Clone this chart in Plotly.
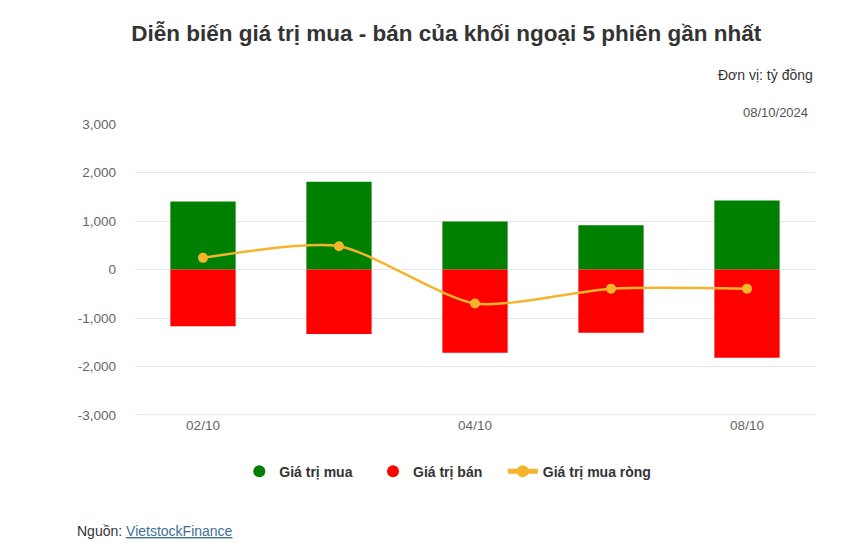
import plotly.graph_objects as go

dates = ["02/10", "03/10", "04/10", "07/10", "08/10"]
buy_values = [1400, 1810, 990, 910, 1425]
sell_values = [-1170, -1330, -1715, -1305, -1820]
net_values = [240, 480, -700, -395, -395]
shown_ticks = ["02/10", "04/10", "08/10"]
y_ticks = [-3000, -2000, -1000, 0, 1000, 2000, 3000]
y_tick_text = ["-3,000", "-2,000", "-1,000", "0", "1,000", "2,000", "3,000"]

GREEN = "#008000"
RED = "#ff0000"
GOLD = "#f4b52b"
FONT = "Liberation Sans, Arial, sans-serif"
PAD = "\u00a0" * 4

fig = go.Figure()
fig.add_trace(go.Bar(x=dates, y=buy_values, name="Giá trị mua", marker=dict(color=GREEN, line=dict(width=0)),
                     width=0.48, showlegend=False))
fig.add_trace(go.Bar(x=dates, y=sell_values, name="Giá trị bán", marker=dict(color=RED, line=dict(width=0)),
                     width=0.48, showlegend=False))
fig.add_trace(go.Scatter(x=dates, y=net_values, name="Giá trị mua ròng", mode="lines+markers",
                         line=dict(color=GOLD, width=2.5, shape="spline", smoothing=0.7),
                         marker=dict(color=GOLD, size=10), showlegend=False))
# legend-only entries
fig.add_trace(go.Scatter(x=[None], y=[None], mode="markers", name="<b>Giá trị mua</b>" + PAD,
                         marker=dict(color=GREEN, size=13, symbol="circle")))
fig.add_trace(go.Scatter(x=[None], y=[None], mode="markers", name="<b>Giá trị bán</b>" + PAD,
                         marker=dict(color=RED, size=13, symbol="circle")))
fig.add_trace(go.Scatter(x=[None], y=[None], mode="lines+markers", name="<b>Giá trị mua ròng</b>",
                         line=dict(color=GOLD, width=2.5), marker=dict(color=GOLD, size=8)))

fig.update_layout(
    width=865, height=558,
    margin=dict(l=135, r=50, t=124, b=143),
    paper_bgcolor="white", plot_bgcolor="white",
    barmode="relative", bargap=0.5,
    font=dict(family=FONT, color="#666666", size=13),
    title=dict(text="<b>Diễn biến giá trị mua - bán của khối ngoại 5 phiên gần nhất</b>",
               x=0.516, xanchor="center", y=0.94, yanchor="middle",
               font=dict(size=22.5, color="#333333", family=FONT)),
    xaxis=dict(type="category", categoryorder="array", categoryarray=dates,
               tickmode="array", tickvals=shown_ticks, ticktext=shown_ticks,
               showgrid=False, showline=False, ticks="", tickfont=dict(size=13.5, color="#666666"),
               range=[-0.5, 4.5], fixedrange=True),
    yaxis=dict(range=[-3000, 3000], tickvals=y_ticks, ticktext=y_tick_text,
               showgrid=True, gridcolor="#e6e6e6", gridwidth=1,
               zeroline=True, zerolinecolor="#e6e6e6", zerolinewidth=1,
               showline=False, ticks="", ticklabelstandoff=18,
               tickfont=dict(size=13.5, color="#666666")),
    legend=dict(orientation="h", x=0.46, xanchor="center", y=-0.14, yanchor="top",
                font=dict(size=14, color="#333333", family=FONT), itemsizing="constant",
                traceorder="normal", itemwidth=30),
    showlegend=True,
)
# darker bottom axis line
fig.add_shape(type="line", xref="paper", yref="y", x0=0, x1=1, y0=-3000, y1=-3000,
              line=dict(color="#ccd6eb", width=1), layer="below")

plot_h = 558 - 124 - 143
fig.add_annotation(text="Đơn vị: tỷ đồng", xref="paper", yref="paper", x=1.0, y=1 + (124 - 75) / plot_h,
                   xanchor="right", yanchor="middle", showarrow=False,
                   font=dict(size=14, color="#333333", family=FONT))
fig.add_annotation(text="08/10/2024", xref="paper", yref="paper", x=0.993, y=1.0,
                   xanchor="right", yanchor="bottom", yshift=2, showarrow=False,
                   font=dict(size=13, color="#555555", family=FONT))
fig.add_annotation(text="Nguồn: <a href='https://finance.vietstock.vn/' style='color:#3f6f94'><u>VietstockFinance</u></a>",
                   xref="paper", yref="paper", x=-0.088, y=-(531 - 415) / plot_h, xanchor="left", yanchor="middle",
                   showarrow=False, font=dict(size=14, color="#333333", family=FONT))

fig.write_html("out.html")
